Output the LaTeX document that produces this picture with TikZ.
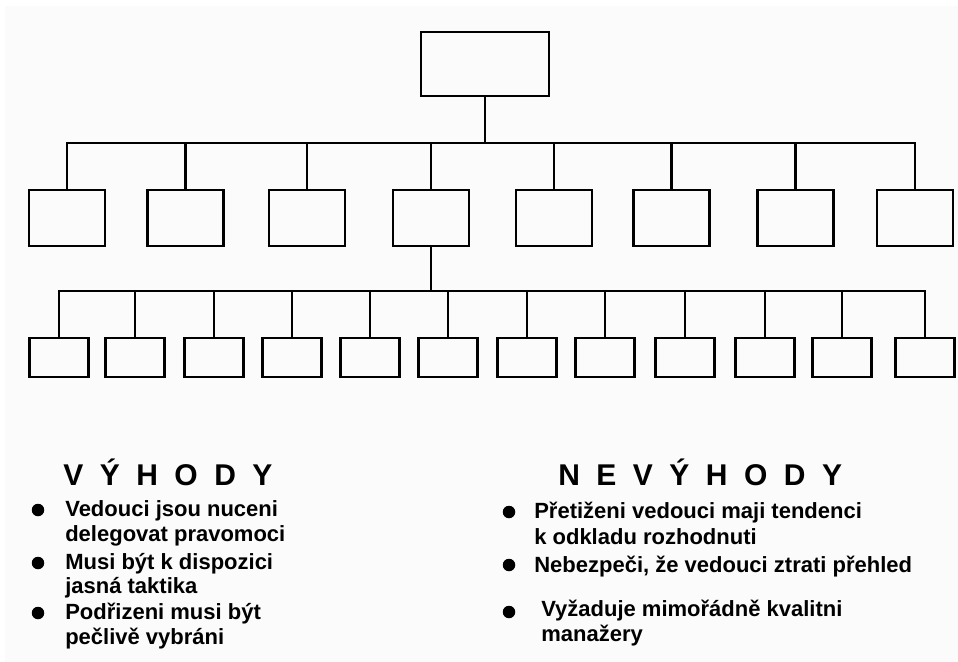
\documentclass[tikz,border=0pt]{standalone}
\usepackage{fontspec}
\setmainfont{Liberation Sans}
\begin{document}
\begin{tikzpicture}[x=1bp,y=-1bp,
  line width=2.6bp, line join=miter,
  topbox/.style={draw, minimum width=128bp, minimum height=64bp, inner sep=0pt},
  midbox/.style={draw, minimum width=76bp, minimum height=56bp, inner sep=0pt},
  lowbox/.style={draw, minimum width=59bp, minimum height=39bp, inner sep=0pt},
  dot/.style={circle, fill=black, draw=none, minimum size=12.5bp, inner sep=0pt},
  head/.style={anchor=base west, inner sep=0pt, font=\bfseries\fontsize{30bp}{32bp}\selectfont\addfontfeature{LetterSpace=55}},
  item/.style={anchor=base west, inner sep=0pt, font=\bfseries\fontsize{22bp}{25bp}\selectfont}
]
\definecolor{paper}{RGB}{250,251,250}
% page
\fill[white] (0,0) rectangle (958,662);
\fill[paper] (5,6) rectangle (958,662);
\useasboundingbox (0,0) rectangle (958,662);

% top level
\node[topbox] (top) at (485,64) {};

% second level
\foreach \i/\x in {1/67,2/185.5,3/307,4/431,5/554,6/671.5,7/795.5,8/915}
  \node[midbox] (m\i) at (\x,218) {};

% third level
\foreach \i/\x in {1/59,2/135,3/214,4/292,5/370,6/448,7/527,8/605,9/685,10/765,11/842,12/925}
  \node[lowbox] (l\i) at (\x,357.5) {};

% connectors
\coordinate (busA) at (485,143);
\draw (top.south) -- (busA);
\foreach \i in {1,...,8}
  \draw (busA) -| (m\i.north);

\coordinate (busB) at (431,291);
\draw (m4.south) -- (busB);
\foreach \i in {1,...,12}
  \draw (busB) -| (l\i.north);

% advantages
\node[head] (hv) at (62,485) {VÝHODY};
\node[dot] (v1) at (38,510) {};
\node[dot] (v2) at (38,563) {};
\node[dot] (v3) at (38,613) {};
\node[item] (tv1a) at (64,516) {Vedouci jsou nuceni};
\node[item] (tv1b) at (64,541) {delegovat pravomoci};
\node[item] (tv2a) at (64,569) {Musi být k dispozici};
\node[item] (tv2b) at (64,593) {jasná taktika};
\node[item] (tv3a) at (64,619) {Podřizeni musi být};
\node[item] (tv3b) at (64,644) {pečlivě vybráni};

% disadvantages
\node[head] (hn) at (557,485) {NEVÝHODY};
\node[dot] (n1) at (509,512) {};
\node[dot] (n2) at (509,565) {};
\node[dot] (n3) at (509,612) {};
\node[item] (tn1a) at (533,518) {Přetiženi vedouci maji tendenci};
\node[item] (tn1b) at (533,544) {k odkladu rozhodnuti};
\node[item] (tn2a) at (533,572) {Nebezpeči, že vedouci ztrati přehled};
\node[item] (tn3a) at (540,616) {Vyžaduje mimořádně kvalitni};
\node[item] (tn3b) at (540,641) {manažery};
\end{tikzpicture}
\end{document}
